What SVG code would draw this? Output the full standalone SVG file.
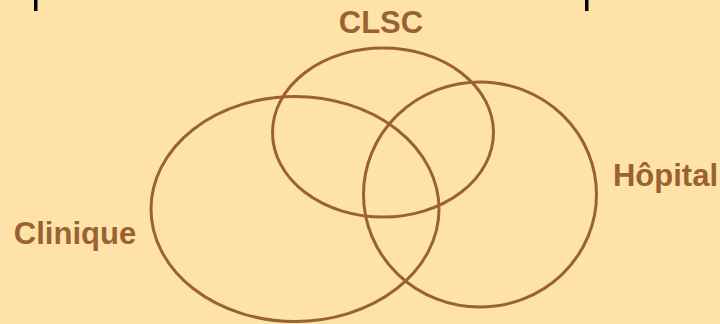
<svg xmlns="http://www.w3.org/2000/svg" width="720" height="324" viewBox="0 0 720 324">
<style>
.ring{fill:none;stroke:#9A6232;stroke-width:3}
.lbl{font-family:"Liberation Sans",Arial,sans-serif;font-weight:bold;font-size:31px;fill:#9A6232;text-anchor:middle}
</style>
<rect width="720" height="324" fill="#FFE2A8"/>
<rect x="34" y="0" width="3.5" height="11" fill="#000"/>
<rect x="585" y="0" width="3.5" height="11" fill="#000"/>
<g id="clinique">
<ellipse class="ring" cx="295" cy="209" rx="144" ry="112.5"/>
<text class="lbl" x="75" y="244">Clinique</text>
</g>
<g id="clsc">
<ellipse class="ring" cx="383" cy="132.5" rx="110.5" ry="84.5"/>
<text class="lbl" x="381" y="33">CLSC</text>
</g>
<g id="hopital">
<ellipse class="ring" cx="480" cy="194.5" rx="116.5" ry="112.5"/>
<text class="lbl" x="665.5" y="186">Hôpital</text>
</g>
<g id="connectors"/>
</svg>
